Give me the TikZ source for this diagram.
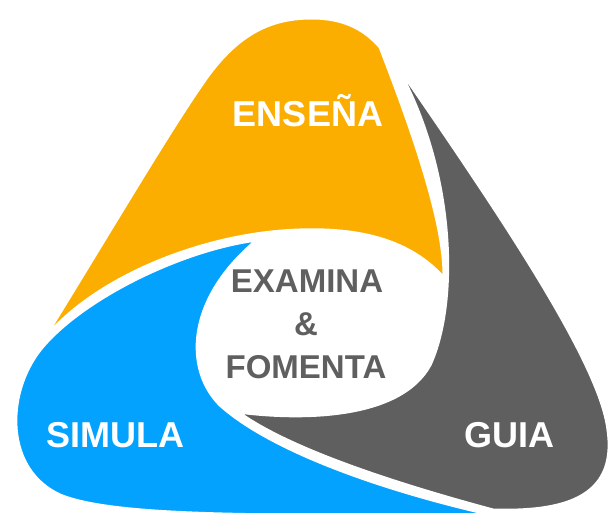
\documentclass[tikz,border=0pt]{standalone}
\usepackage{fontspec}
\setmainfont{Liberation Sans}
\usepackage{tikz}
\definecolor{O}{RGB}{252, 174, 0}
\definecolor{G}{RGB}{95, 95, 95}
\definecolor{B}{RGB}{3, 162, 254}

\begin{document}
\begin{tikzpicture}[x=1pt, y=-1pt,
  hoja/.style={draw=white, line width=3pt, line join=round},
  rotulo/.style={anchor=base, text=white, font=\fontsize{36}{36}\selectfont\bfseries},
  centro/.style={anchor=base, text=G, font=\fontsize{33}{33}\selectfont\bfseries}]
  \useasboundingbox (0,0) rectangle (611,513);
  \clip (0,0) rectangle (611,513);

  %# HOJA NARANJA
  \filldraw[hoja, fill=O] (42,342) .. controls (120,215) and (170,130) .. (205,80)
    .. controls (240,30) and (275,18) .. (312,18)
    .. controls (345,18) and (365,30) .. (380,47)
    .. controls (420,150) and (445,230) .. (444,278)
    .. controls (410,240) and (360,228) .. (300,230)
    .. controls (200,233) and (90,280) .. cycle;

  %# HOJA GRIS
  \filldraw[hoja, fill=G] (390,55) .. controls (490,200) and (600,360) .. (608,430)
    .. controls (618,500) and (560,512) .. (493,510)
    .. controls (400,485) and (290,450) .. (238,412)
    .. controls (300,420) and (400,420) .. (430,365)
    .. controls (460,300) and (455,160) .. cycle;

  %# HOJA AZUL
  \filldraw[hoja, fill=B] (257,240) .. controls (180,250) and (80,300) .. (40,350)
    .. controls (5,395) and (5,470) .. (60,495)
    .. controls (120,520) and (300,514) .. (497,516)
    .. controls (380,490) and (270,450) .. (220,405)
    .. controls (185,370) and (185,300) .. cycle;

  %# ROTULOS
  \node[rotulo] (ensena) at (308,127) {ENSEÑA};
  \node[rotulo] (simula) at (115,447) {SIMULA};
  \node[rotulo] (guia) at (509,447) {GUIA};

  %# CENTRO
  \node[centro] (examina) at (307,293) {EXAMINA};
  \node[centro] (y) at (306,335) {\&};
  \node[centro] (fomenta) at (306,378) {FOMENTA};
\end{tikzpicture}
\end{document}
